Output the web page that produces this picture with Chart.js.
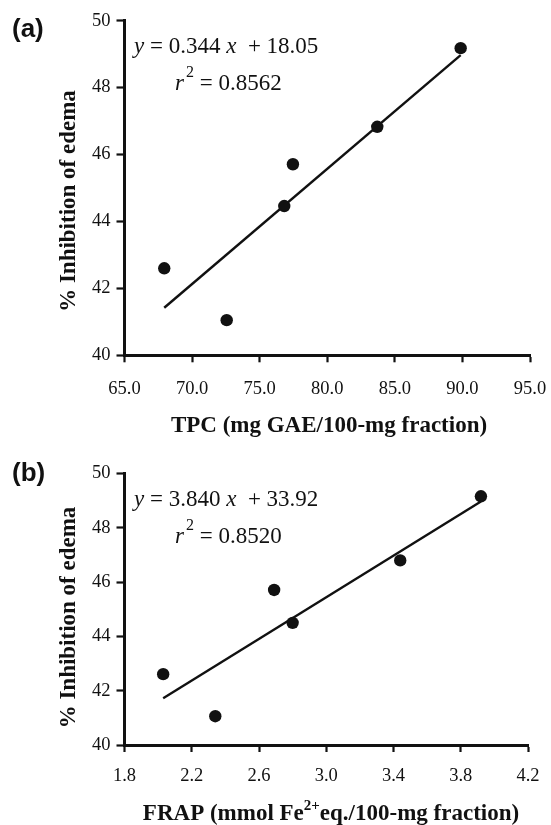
<!DOCTYPE html>
<html>
<head>
<meta charset="utf-8">
<script src="https://cdn.jsdelivr.net/npm/chart.js@4.4.1/dist/chart.umd.min.js"></script>
<style>
  html, body { margin: 0; padding: 0; background: #fff; }
  #wrap { position: relative; width: 551px; height: 825px; overflow: hidden; }
  canvas { position: absolute; left: 0; }
  #chartA { top: 0; }
  #chartB { top: 440px; }
</style>
</head>
<body>
<div id="wrap">
  <canvas id="chartA" width="551" height="440"></canvas>
  <canvas id="chartB" width="551" height="385"></canvas>
</div>
<script>
// panel (a) - TPC vs % inhibition of edema
const tpcValues = [67.94, 72.56, 76.82, 77.46, 83.70, 89.87];
const inhibitionA = [42.60, 41.05, 44.46, 45.71, 46.83, 49.18];
const tpcFitX = [67.94, 89.87];
const tpcFitY = [41.42, 48.97];
const tpcTicks = [65, 70, 75, 80, 85, 90, 95];

// panel (b) - FRAP vs % inhibition of edema
const frapValues = [2.03, 2.34, 2.69, 2.80, 3.44, 3.92];
const inhibitionB = [42.61, 41.06, 45.71, 44.50, 46.80, 49.16];
const frapFitX = [2.03, 3.92];
const frapFitY = [41.72, 48.97];
const frapTicks = [1.8, 2.2, 2.6, 3.0, 3.4, 3.8, 4.2];

const inhibitionTicks = [40, 42, 44, 46, 48, 50];

const serif = '"Liberation Serif", "Times New Roman", serif';
const sans = '"Liberation Sans", Arial, sans-serif';
const ink = "#111111";

// draws a row of text pieces (italic / superscript bits) one after the other
function drawRuns(ctx, x, y, runs) {
    runs.forEach(r => {
        ctx.font = r.font;
        ctx.fillText(r.text, x + (r.gap || 0), y - (r.rise || 0));
        x += ctx.measureText(r.text).width + (r.gap || 0);
    });
}

function runsWidth(ctx, runs) {
    let w = 0;
    runs.forEach(r => { ctx.font = r.font; w += ctx.measureText(r.text).width + (r.gap || 0); });
    return w;
}

const panelText = {
    id: "panelText",
    afterDraw(chart, args, o) {
        const ctx = chart.ctx;
        const area = chart.chartArea;
        ctx.save();
        ctx.fillStyle = ink;
        ctx.textAlign = "left";
        ctx.textBaseline = "alphabetic";

        // panel letter
        ctx.font = "bold 26px " + sans;
        ctx.fillText(o.letter, 12, o.letterY);

        // regression equation
        const eqFont = "23px " + serif;
        const eqItal = "italic 23px " + serif;
        drawRuns(ctx, area.left + 9.5, area.top + 32, [
            { text: "y", font: eqItal },
            { text: " = " + o.slope + " ", font: eqFont },
            { text: "x", font: eqItal },
            { text: "  + " + o.intercept, font: eqFont }
        ]);
        drawRuns(ctx, area.left + 50.5, area.top + 69, [
            { text: "r", font: eqItal },
            { text: "2", font: "16px " + serif, rise: 12.5, gap: 2 },
            { text: " = " + o.r2, font: eqFont }
        ]);

        // x axis title, centred
        const w = runsWidth(ctx, o.xTitle);
        drawRuns(ctx, o.xTitleX - w / 2, o.xTitleY, o.xTitle);

        // y axis title, rotated
        ctx.translate(75, o.yTitleY);
        ctx.rotate(-Math.PI / 2);
        ctx.textAlign = "center";
        ctx.font = "bold 23px " + serif;
        ctx.fillText("% Inhibition of edema", 0, 0);
        ctx.restore();
    }
};

function buildChart(canvasId, xs, ys, fitX, fitY, xTicks, xMin, xMax, dims, text) {
    const points = xs.map((x, i) => ({ x: x, y: ys[i] }));
    const fit = fitX.map((x, i) => ({ x: x, y: fitY[i] }));
    return new Chart(document.getElementById(canvasId), {
        type: "scatter",
        data: {
            datasets: [
                {
                    data: fit,
                    showLine: true,
                    borderColor: ink,
                    borderWidth: 2.4,
                    pointRadius: 0,
                    clip: false
                },
                {
                    data: points,
                    pointRadius: 6.2,
                    pointBackgroundColor: ink,
                    pointBorderWidth: 0,
                    clip: false
                }
            ]
        },
        options: {
            responsive: false,
            animation: false,
            layout: { padding: { top: dims.top, right: dims.right, left: 0, bottom: 0 } },
            plugins: {
                legend: { display: false },
                tooltip: { enabled: false },
                panelText: text
            },
            scales: {
                x: {
                    type: "linear",
                    min: xMin,
                    max: xMax,
                    afterBuildTicks: s => { s.ticks = xTicks.map(v => ({ value: v })); },
                    afterFit: s => {
                        s.height = dims.xAxisHeight;
                        // end labels fit inside the layout padding already
                        s.paddingLeft = 0;
                        s.paddingRight = 0;
                    },
                    border: { display: true, color: ink, width: 3 },
                    grid: { drawOnChartArea: false, drawTicks: true, tickLength: 7, tickColor: ink, tickWidth: 2.2 },
                    ticks: {
                        color: ink,
                        font: { family: serif, size: 18.5 },
                        padding: dims.xPad,
                        maxRotation: 0,
                        autoSkip: false,
                        callback: v => Number(v).toFixed(1)
                    }
                },
                y: {
                    type: "linear",
                    min: 40,
                    max: 50,
                    afterBuildTicks: s => { s.ticks = inhibitionTicks.map(v => ({ value: v })); },
                    afterFit: s => {
                        s.width = 124.5;
                        s.paddingTop = 0;
                        s.paddingBottom = 0;
                    },
                    border: { display: true, color: ink, width: 3 },
                    grid: { drawOnChartArea: false, drawTicks: true, tickLength: 8, tickColor: ink, tickWidth: 2.2 },
                    ticks: {
                        color: ink,
                        font: { family: serif, size: 18.5 },
                        padding: 6,
                        autoSkip: false,
                        callback: v => String(v)
                    }
                }
            }
        },
        plugins: [panelText]
    });
}

buildChart("chartA", tpcValues, inhibitionA, tpcFitX, tpcFitY, tpcTicks, 65, 95,
    { top: 20.7, right: 21, xAxisHeight: 84.7, xPad: 15.5 },
    {
        letter: "(a)", letterY: 36.5,
        slope: "0.344", intercept: "18.05", r2: "0.8562",
        xTitleX: 329, xTitleY: 432, yTitleY: 201,
        xTitle: [{ text: "TPC (mg GAE/100-mg fraction)", font: "bold 23px " + serif }]
    });

buildChart("chartB", frapValues, inhibitionB, frapFitX, frapFitY, frapTicks, 1.8, 4.2,
    { top: 33.5, right: 23, xAxisHeight: 80, xPad: 13 },
    {
        letter: "(b)", letterY: 41,
        slope: "3.840", intercept: "33.92", r2: "0.8520",
        xTitleX: 331, xTitleY: 380, yTitleY: 177.5,
        xTitle: [
            { text: "FRAP (mmol Fe", font: "bold 23px " + serif },
            { text: "2+", font: "bold 15px " + serif, rise: 10 },
            { text: "eq./100-mg fraction)", font: "bold 23px " + serif }
        ]
    });
</script>
</body>
</html>
